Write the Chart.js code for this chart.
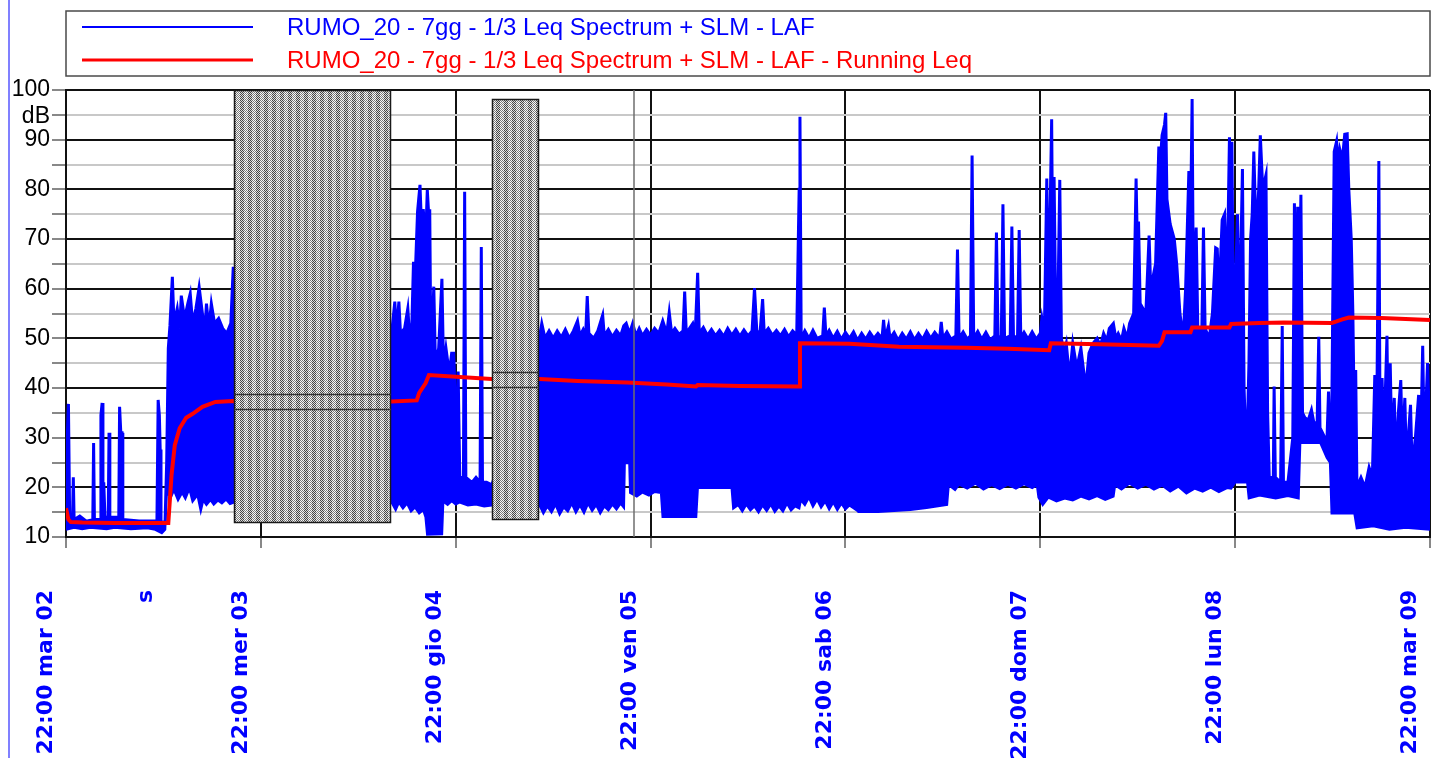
<!DOCTYPE html>
<html>
<head>
<meta charset="utf-8">
<script src="https://cdn.jsdelivr.net/npm/chart.js@4.4.1/dist/chart.umd.min.js"></script>
<style>
  html, body { margin: 0; padding: 0; background: #fff; }
</style>
</head>
<body>
<canvas id="myChart" width="1431" height="758"></canvas>
<script>
// x values are hours from 22:00 mar 02
let tickHours = [0, 12.3, 24, 48, 72, 96, 120, 144, 168];
let tickLabels = ['22:00 mar 02', 's', '22:00 mer 03', '22:00 gio 04', '22:00 ven 05',
                  '22:00 sab 06', '22:00 dom 07', '22:00 lun 08', '22:00 mar 09'];
let seriesNames = ['RUMO_20 - 7gg - 1/3 Leq Spectrum + SLM - LAF',
                   'RUMO_20 - 7gg - 1/3 Leq Spectrum + SLM - LAF - Running Leq'];

// LAF: upper and lower edge of the dense trace, [hour, dB]
let lafHigh = [
  [0, 15], [0.15, 30], [0.3, 36.8], [0.45, 14], [0.8, 13.5], [0.9, 22], [1.0, 13.5], [1.7, 14.2], [2.5, 13.2],
  [3.3, 13.5], [3.4, 28.9], [3.5, 13.5], [4.2, 13.5], [4.3, 34.5], [4.45, 37], [4.55, 20], [4.65, 21], [4.8, 14],
  [5.2, 14], [5.3, 31], [5.4, 14], [6.5, 14], [6.6, 36.2], [6.75, 31], [6.9, 31], [7.0, 13.5], [9.0, 13.2],
  [11.2, 13.2], [11.35, 37.6], [11.5, 34.5], [11.6, 27.6], [11.7, 13], [12.2, 13],
  [12.4, 25], [12.6, 48], [12.8, 52.5], [13.1, 62.4], [13.3, 53], [13.7, 56], [14.0, 52], [14.2, 58.6], [14.6, 54],
  [15.0, 57], [15.3, 59], [15.6, 53], [16.0, 56], [16.4, 60.3], [16.8, 55], [17.1, 51.5], [17.3, 57], [17.6, 52],
  [17.9, 57], [18.3, 53], [18.8, 54], [19.3, 52], [19.8, 51], [20.3, 53], [20.6, 64.4], [20.7, 52],
  [40.1, 51], [40.5, 57.4], [40.7, 51], [41.0, 57.4], [41.2, 51], [41.7, 52], [42.1, 56], [42.3, 51], [42.6, 53],
  [42.8, 65.4], [43.0, 62], [43.3, 75.5], [43.6, 80.9], [43.8, 72], [44.0, 76], [44.3, 70], [44.5, 79.9], [44.7, 74],
  [44.8, 76], [44.95, 45], [45.3, 60.4], [45.5, 45], [45.9, 48], [46.3, 62], [46.5, 44], [46.8, 48], [47.2, 43],
  [47.5, 47], [47.75, 47], [47.9, 40], [48.1, 25], [48.3, 43.3], [48.5, 22], [48.95, 22], [49.1, 79.5], [49.25, 22],
  [50.0, 21], [50.5, 22], [51.0, 21], [51.15, 68.4], [51.3, 21], [51.8, 21], [52.45, 20.5],
  [58.4, 51], [58.6, 53], [59.0, 50], [59.5, 51.5], [60.0, 50], [60.5, 51.5], [61.0, 50.2], [61.5, 51.8], [62.0, 50],
  [62.5, 51.5], [63.0, 53.5], [63.3, 50.5], [63.7, 51.8], [64.0, 50.5], [64.2, 58.5], [64.4, 51], [65.0, 50],
  [65.5, 51.5], [66.1, 54.7], [66.3, 50.5], [66.8, 51.8], [67.3, 50.3], [67.8, 51.6], [68.3, 50.5], [68.7, 52.5],
  [69.0, 53], [69.4, 51], [69.8, 53], [70.2, 50.5], [70.6, 52], [71.0, 50.5], [71.5, 51.8], [72.0, 50.6], [72.5, 52],
  [73.0, 51], [73.5, 53.5], [74.0, 51], [74.3, 55.2], [74.6, 51], [75.0, 52], [75.5, 50.8], [76.0, 51.5],
  [76.2, 59.4], [76.4, 51], [76.8, 52], [77.2, 53], [77.5, 51], [77.8, 63.2], [78.0, 51], [78.5, 52.2], [79.0, 50.6],
  [79.5, 51.8], [80.0, 50.5], [80.5, 51.6], [81.0, 50.4], [81.5, 52], [82.0, 50.6], [82.5, 51.8], [83.0, 50.4],
  [83.5, 51.7], [84.0, 50.5], [84.5, 51.5], [84.8, 60.1], [85.1, 51], [85.5, 51.5], [85.8, 57.9], [86.0, 51],
  [86.5, 52], [87.0, 50.6], [87.5, 51.6], [88.0, 50.5], [88.5, 51.8], [89.0, 50.3], [89.5, 51.5], [90.0, 50.6],
  [90.3, 80], [90.4, 94.6], [90.55, 50],
  [91.0, 51.5], [91.5, 50], [92.0, 51.6], [92.5, 50], [93.2, 50.5], [93.4, 56.2], [93.6, 50.5], [94.0, 51.6],
  [94.5, 50], [95.0, 51.4], [95.5, 49.8], [96.0, 51.2], [96.5, 50], [97.0, 51.3], [97.5, 49.6], [98.0, 51],
  [98.5, 49.8], [99.0, 51.2], [99.5, 50], [100.0, 51], [100.5, 50], [100.7, 53.7], [100.9, 50], [101.3, 52.5],
  [101.5, 50], [102.0, 51.2], [102.5, 49.6], [103.0, 51], [103.5, 49.8], [104.0, 51.3], [104.5, 49.7], [105.0, 51],
  [105.5, 49.8], [106.0, 51.4], [106.5, 50], [107.0, 51.2], [107.6, 50], [107.8, 53.3], [108.0, 50], [108.5, 51.3],
  [109.0, 49.8], [109.6, 50.5], [109.8, 67.9], [110.0, 50], [110.5, 51.3], [111.0, 49.8], [111.4, 50.5],
  [111.6, 86.8], [111.8, 50], [112.3, 51.4], [112.8, 49.8], [113.3, 51.2], [113.8, 49.7], [114.4, 50.5],
  [114.6, 71.3], [114.8, 50], [115.2, 50.5], [115.4, 77.0], [115.6, 50], [116.3, 50.5], [116.5, 72.5], [116.7, 50],
  [117.2, 50.5], [117.4, 71.8], [117.6, 50], [118.0, 51.2], [118.5, 49.8], [119.0, 51.3], [119.5, 49.8],
  [120.0, 51], [120.2, 54], [120.5, 51], [120.8, 82.2], [121.0, 55], [121.4, 94.1], [121.55, 60], [121.7, 82.5],
  [121.9, 55], [122.2, 60], [122.4, 81.9], [122.6, 50], [122.9, 47], [123.2, 49], [123.6, 42], [124.0, 49],
  [124.5, 44], [125.0, 48], [125.6, 40], [126.0, 47], [126.5, 49], [127.0, 50], [127.4, 48.5], [127.8, 51],
  [128.2, 49.5], [128.5, 52], [129.0, 53], [129.3, 50], [129.6, 51], [130.0, 49.6], [130.3, 52], [130.7, 50],
  [131.0, 53], [131.5, 55], [131.8, 82.2], [132.0, 65], [132.1, 73.5], [132.3, 57], [133.0, 55], [133.4, 70.7],
  [133.6, 60], [134.2, 65], [134.6, 88.6], [134.8, 86], [135.0, 90.9], [135.3, 93], [135.45, 95.4], [135.6, 78],
  [136.0, 73], [136.5, 70], [136.8, 65], [137.2, 55], [137.6, 50], [137.9, 60], [138.3, 83.7], [138.5, 72],
  [138.7, 98.2], [138.85, 60], [139.2, 72.3], [139.4, 52], [139.9, 52], [140.1, 72.3], [140.3, 52], [140.8, 50],
  [141.2, 55], [141.6, 68.2], [141.8, 68], [142.0, 58], [142.4, 73.8], [142.7, 75], [143.0, 60], [143.3, 90.5],
  [143.5, 70], [143.6, 89.6], [143.8, 50], [144.3, 75], [144.5, 50], [144.9, 84.1], [145.1, 40], [145.4, 25],
  [145.7, 45], [145.9, 70], [146.1, 75], [146.3, 87.6], [146.6, 70], [146.9, 80], [147.1, 90.9], [147.4, 80],
  [147.8, 82.9], [148.0, 35], [148.2, 22], [148.7, 22], [148.8, 40.3], [148.95, 22], [149.6, 21], [149.8, 52.5],
  [149.95, 21], [150.5, 21], [151.1, 30], [151.3, 77.2], [151.5, 55], [151.7, 76.5], [151.9, 60], [152.1, 78.9],
  [152.3, 35], [152.6, 34], [153.0, 33.5], [153.4, 35.6], [153.7, 33], [154.1, 33], [154.3, 50.3], [154.45, 32],
  [154.9, 30.5], [155.3, 29], [155.5, 39.3], [155.7, 28], [155.9, 35], [156.2, 87.6], [156.5, 89.7], [156.7, 85],
  [156.9, 88], [157.2, 86], [157.5, 91.1], [157.8, 91.2], [158.0, 80], [158.3, 70], [158.5, 55], [158.7, 30],
  [158.85, 43.6], [159.0, 20], [159.5, 22], [160.0, 20], [160.5, 24], [160.9, 22], [161.2, 42.6], [161.4, 25],
  [161.7, 85.7], [161.85, 30], [162.1, 42], [162.3, 28], [162.7, 50.5], [162.85, 30], [163.1, 45], [163.3, 28],
  [163.6, 38], [163.8, 25], [164.1, 35], [164.4, 41.6], [164.6, 28], [164.9, 38], [165.1, 25], [165.6, 36.6],
  [165.8, 24], [166.2, 30], [166.6, 38.6], [166.8, 25], [167.1, 48.5], [167.3, 28], [167.7, 45], [168, 30]
];

let lafLow = [
  [0, 11.5], [1, 11.9], [2, 11.6], [3, 11.9], [5, 11.6], [6, 11.9], [8, 11.6], [10, 11.8], [11, 11.5], [11.8, 10.8],
  [12.2, 11.5], [12.4, 19], [12.9, 18], [13.3, 19.5], [13.8, 17.5], [14.3, 19], [14.7, 17.8], [15.2, 19.8],
  [15.6, 17.2], [16.2, 18.5], [16.6, 15.4], [16.9, 17.5], [17.3, 16.5], [17.8, 17.5], [18.2, 16.6], [18.7, 17.4],
  [19.2, 16.8], [19.7, 17.6], [20.2, 16.7], [20.7, 17],
  [40.1, 17], [40.6, 15.5], [41.0, 17], [41.5, 15.8], [42, 16.8], [42.5, 15.2], [43, 16], [43.5, 14.8], [44.0, 15.5],
  [44.3, 14], [44.5, 10.5], [46.3, 10.6], [46.45, 17.2], [47, 16.5], [47.5, 17.3], [48, 16.6], [48.5, 17],
  [49.5, 16.4], [50.5, 16.6], [51.5, 16.2], [52.45, 16.4],
  [58.3, 16.5], [58.8, 14.8], [59.3, 16.2], [59.8, 15], [60.3, 16.6], [60.8, 14.6], [61.3, 16], [61.8, 15.2],
  [62.3, 16.8], [62.8, 15], [63.3, 16.4], [63.8, 14.9], [64.3, 16.8], [64.8, 15.3], [65.3, 16.5], [65.8, 14.8],
  [66.3, 16.2], [66.8, 15.4], [67.3, 16.6], [67.8, 15.6], [68.3, 16.8], [68.7, 16], [68.8, 24.9], [69.4, 24.9],
  [69.5, 18.9], [70.3, 18.2], [71, 19], [71.8, 18.4], [72.5, 19.1], [73.3, 18.9], [73.5, 14.1], [77.6, 14.1],
  [77.8, 19.9], [82, 19.9], [82.2, 15.8], [82.8, 16.5], [83.3, 15.2], [83.8, 16.6], [84.3, 15.4], [84.8, 16.2],
  [85.3, 15], [85.8, 16.4], [86.3, 15.3], [86.8, 16.6], [87.3, 15.1], [87.8, 16.2], [88.3, 15.2], [88.8, 16.8],
  [89.3, 15.4], [89.8, 16.2], [90.3, 15.8], [90.5, 17.5], [91, 16.5], [91.5, 18], [92, 16.2], [92.5, 17.6],
  [93, 16], [93.5, 17.2], [94, 15.6], [94.5, 17], [95, 15.5], [95.5, 16.8], [96, 15.6], [96.5, 16.4], [97.4, 15.4],
  [97.6, 15.1], [100, 15.1], [102, 15.3], [104, 15.5], [106, 15.9], [108.5, 16.5], [108.7, 20.5], [109.5, 19.5],
  [110, 20.6], [111, 19.8], [112, 20.8], [113, 19.6], [114, 20.5], [115, 19.7], [116, 20.6], [117, 19.8],
  [118, 20.7], [119, 19.9], [119.6, 20.5], [119.8, 18], [120.3, 16.5], [121, 18], [122, 17.2], [123, 17.8],
  [124, 17.4], [125, 18.2], [126, 17.6], [127, 18.3], [128, 17.5], [129, 18.2], [129.2, 20.5], [130, 19.6],
  [131, 20.8], [132, 19.8], [133, 20.6], [134, 19.6], [135, 20.4], [136, 19.2], [137, 20.2], [138, 18.8],
  [139, 19.8], [140, 19.2], [141, 20], [142, 19.1], [143, 19.9], [143.5, 19.8], [144, 21], [145.5, 21],
  [145.7, 17.8], [147, 18.4], [149, 17.8], [150.5, 18.3], [151.8, 17.8], [152.0, 29], [154.5, 29], [155.3, 26],
  [155.7, 25], [155.9, 14.8], [158.7, 14.8], [159, 11.8], [161, 12.2], [163, 11.5], [165, 11.9], [168, 11.5]
];

let runningLeq = [
  [0, 15.8], [0.3, 13.5], [0.6, 13.0], [2, 12.9], [6, 12.8], [10, 12.8], [12.6, 12.8], [13.0, 22.5], [13.4, 28.5],
  [14.0, 31.9], [14.8, 34], [15.6, 34.8], [16.8, 36.2], [18.4, 37.2], [20.6, 37.4], [40.1, 37.3], [43.2, 37.5],
  [43.5, 39], [43.9, 40], [44.3, 41], [44.7, 42.6], [52.4, 41.8], [58.3, 41.8], [63, 41.4], [69.1, 41.1], [74, 40.7],
  [77.6, 40.3], [77.8, 40.6], [83, 40.4], [90.3, 40.3], [90.4, 49.0], [96.5, 48.9], [102.6, 48.3], [110.9, 48.1],
  [116, 47.9], [121.1, 47.6], [121.3, 49.0], [127.3, 48.8], [134.6, 48.5], [135.0, 49.5], [135.3, 51.2],
  [138.5, 51.2], [138.7, 52.2], [143.3, 52.2], [143.5, 52.9], [147, 53.1], [150, 53.2], [155.9, 53.1],
  [156.5, 53.4], [157.2, 53.8], [158.0, 54.2], [162, 54.1], [168, 53.7]
];

// excluded periods: start hour, end hour, bottom dB, top dB, and their two Leq levels
let maskStart = [20.7, 52.45];
let maskEnd = [40.0, 58.25];
let maskBottom = [12.9, 13.4];
let maskTop = [100, 98.2];
let maskLeqA = [38.8, 43.3];
let maskLeqB = [35.8, 40.2];
let markerHour = 69.9;

function toPoints(arr) {
    return arr.map(p => ({ x: p[0], y: p[1] }));
}

function makeHatch(ctx) {
    let c = document.createElement('canvas');
    c.width = 8; c.height = 2;
    let g = c.getContext('2d');
    let dark = ['#444', '#dcdcdc', '#444', '#dcdcdc', '#7a7a7a', '#fafafa', '#7a7a7a', '#fafafa'];
    for (let i = 0; i < 8; i++) {
        g.fillStyle = dark[i]; g.fillRect(i, 0, 1, 1);
        g.fillStyle = dark[i % 2 === 0 ? i + 1 : i - 1]; g.fillRect(i, 1, 1, 1);
    }
    return ctx.createPattern(c, 'repeat');
}

let overlay = {
    id: 'overlay',
    afterDatasetsDraw(chart) {
        let ctx = chart.ctx, area = chart.chartArea;
        let x = chart.scales.x, y = chart.scales.y;
        ctx.save();
        // marker line
        let mx = Math.round(x.getPixelForValue(markerHour));
        ctx.strokeStyle = '#6e6e6e';
        ctx.lineWidth = 1.5;
        ctx.beginPath(); ctx.moveTo(mx, area.top); ctx.lineTo(mx, area.bottom); ctx.stroke();
        // masked periods
        let hatch = makeHatch(ctx);
        for (let i = 0; i < maskStart.length; i++) {
            let x0 = Math.round(x.getPixelForValue(maskStart[i]));
            let x1 = Math.round(x.getPixelForValue(maskEnd[i]));
            let y0 = Math.round(y.getPixelForValue(maskTop[i]));
            let y1 = Math.round(y.getPixelForValue(maskBottom[i]));
            ctx.fillStyle = hatch;
            ctx.fillRect(x0, y0, x1 - x0, y1 - y0);
            ctx.strokeStyle = '#1a1a1a';
            ctx.lineWidth = 1.5;
            ctx.strokeRect(x0 + 0.5, y0 + 0.5, x1 - x0 - 1, y1 - y0 - 1);
            ctx.strokeStyle = '#333';
            [maskLeqA[i], maskLeqB[i]].forEach(v => {
                let py = Math.round(y.getPixelForValue(v)) + 0.5;
                ctx.beginPath(); ctx.moveTo(x0, py); ctx.lineTo(x1, py); ctx.stroke();
            });
        }
        ctx.restore();
    },
    afterDraw(chart) {
        let ctx = chart.ctx, area = chart.chartArea;
        ctx.save();
        // left edge line
        ctx.strokeStyle = '#8080ff';
        ctx.lineWidth = 2;
        ctx.beginPath(); ctx.moveTo(9, 0); ctx.lineTo(9, chart.height); ctx.stroke();
        // legend box
        ctx.strokeStyle = '#4a4a4a';
        ctx.lineWidth = 1.5;
        ctx.strokeRect(area.left, 11, area.right - area.left, 65);
        let colors = ['#0000ff', '#ff0000'];
        let widths = [2, 3];
        let rows = [27, 60];
        ctx.font = '24px "Liberation Sans", Arial, sans-serif';
        ctx.textBaseline = 'middle';
        ctx.textAlign = 'left';
        for (let i = 0; i < 2; i++) {
            ctx.strokeStyle = colors[i];
            ctx.lineWidth = widths[i];
            ctx.beginPath(); ctx.moveTo(82, rows[i]); ctx.lineTo(253, rows[i]); ctx.stroke();
            ctx.fillStyle = colors[i];
            ctx.fillText(seriesNames[i], 287, rows[i] + 1);
        }
        // unit label
        ctx.fillStyle = '#000';
        ctx.textAlign = 'right';
        ctx.font = '23px "Liberation Sans", Arial, sans-serif';
        ctx.fillText('dB', 50, 117);
        ctx.restore();
    }
};

let ctx = document.getElementById('myChart').getContext('2d');
let myChart = new Chart(ctx, {
    type: 'line',
    data: {
        datasets: [{
            label: seriesNames[0],
            data: toPoints(lafHigh),
            borderColor: '#0000ff',
            backgroundColor: '#0000ff',
            borderWidth: 3,
            fill: '+1',
            order: 2
        }, {
            label: seriesNames[0] + ' (min)',
            data: toPoints(lafLow),
            borderColor: '#0000ff',
            backgroundColor: '#0000ff',
            borderWidth: 2.5,
            fill: false,
            order: 3
        }, {
            label: seriesNames[1],
            data: toPoints(runningLeq),
            borderColor: '#ff0000',
            borderWidth: 4,
            fill: false,
            order: 1
        }]
    },
    options: {
        responsive: false,
        animation: false,
        layout: { padding: { top: 90, right: 1, left: 0, bottom: 0 } },
        elements: { point: { radius: 0 }, line: { tension: 0 } },
        plugins: { legend: { display: false }, tooltip: { enabled: false } },
        scales: {
            x: {
                type: 'linear',
                min: 0,
                max: 168,
                afterBuildTicks: s => { s.ticks = tickHours.map(v => ({ value: v })); },
                afterFit: s => { s.height = 221; s.paddingLeft = 0; s.paddingRight = 0; },
                ticks: {
                    autoSkip: false,
                    minRotation: 90,
                    maxRotation: 90,
                    padding: 42,
                    labelOffset: -20,
                    color: '#0000ff',
                    font: { family: 'DejaVu Sans', size: 22, weight: 'bold' },
                    callback: (v, i) => tickLabels[i]
                },
                grid: {
                    color: c => tickLabels[c.index] === 's' ? 'rgba(0,0,0,0)' : '#111',
                    tickColor: c => tickLabels[c.index] === 's' ? 'rgba(0,0,0,0)' : '#888',
                    lineWidth: 2,
                    tickLength: 11
                },
                border: { color: '#111', width: 2 }
            },
            y: {
                min: 10,
                max: 100,
                afterFit: s => { s.width = 66; },
                ticks: {
                    stepSize: 5,
                    autoSkip: false,
                    padding: 2,
                    color: '#000',
                    font: { family: 'Liberation Sans', size: 23 },
                    callback: v => v % 10 === 0 ? v : ''
                },
                grid: {
                    color: c => c.tick && c.tick.value % 10 === 0 ? '#111' : '#c8c8c8',
                    tickColor: '#888',
                    lineWidth: 2,
                    tickLength: 14
                },
                border: { color: '#111', width: 2 }
            }
        }
    },
    plugins: [overlay]
});
</script>
</body>
</html>
